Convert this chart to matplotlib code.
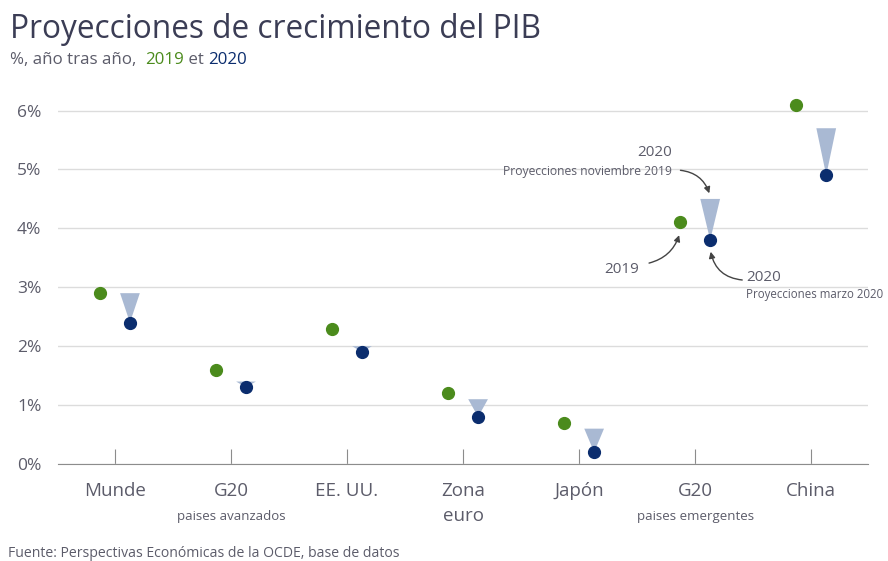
import numpy as np
import matplotlib.pyplot as plt

# datos (%, año tras año)
categorias = ['Munde', 'G20', 'EE. UU.', 'Zona\neuro', 'Japón', 'G20', 'China']
subetiquetas = ['', 'paises avanzados', '', '', '', 'paises emergentes', '']
pib_2019 = [2.9, 1.6, 2.3, 1.2, 0.7, 4.1, 6.1]
pib_2020_nov = [2.9, 1.4, 2.0, 1.1, 0.6, 4.5, 5.7]
pib_2020_mar = [2.4, 1.3, 1.9, 0.8, 0.2, 3.8, 4.9]

verde = '#4b8b1c'
azul = '#0b2d6e'
triang = '#a9b9d3'
gris = '#5c5c6a'

plt.rcParams['font.family'] = ['Open Sans', 'DejaVu Sans']

fig = plt.figure(figsize=(8.88, 5.61), dpi=100)
ax = fig.add_axes([58 / 888, 97 / 561, 810 / 888, 377 / 561])

x = np.arange(len(categorias))
dx = 0.13
w = 0.085

for xi, top, bot in zip(x, pib_2020_nov, pib_2020_mar):
    ax.fill([xi + dx - w, xi + dx + w, xi + dx], [top, top, bot],
            color=triang, lw=0, zorder=2)

ax.plot(x - dx, pib_2019, 'o', color=verde, ms=8.5, zorder=3, ls='none')
ax.plot(x + dx, pib_2020_mar, 'o', color=azul, ms=8.5, zorder=4, ls='none')

ax.set_xlim(-0.49, 6.49)
ax.set_ylim(0, 6.4)
ax.set_yticks(range(7))
ax.set_yticklabels([f'{v}%' for v in range(7)])
ax.grid(axis='y', color='#dcdcdc', lw=1)
ax.set_axisbelow(True)
for s in ['top', 'right', 'left']:
    ax.spines[s].set_visible(False)
ax.spines['bottom'].set_color('#8c8c8c')
ax.tick_params(axis='y', length=0, labelsize=12.5, labelcolor=gris, pad=12)
ax.set_xticks(x)
ax.set_xticklabels([])
ax.tick_params(axis='x', direction='in', length=11, color='#8c8c8c')

for xi, cat, sub in zip(x, categorias, subetiquetas):
    ax.text(xi, -0.31, cat, ha='center', va='top', fontsize=13.5, color=gris,
            linespacing=1.45)
    if sub:
        ax.text(xi, -0.78, sub, ha='center', va='top', fontsize=9.5, color=gris)

# anotaciones para G20 emergentes
i = 5
flecha = dict(arrowstyle='-|>', color='#444444', lw=1, mutation_scale=9)
ax.text(i - 0.2, 5.28, '2020', ha='right', va='center', fontsize=11, color=gris)
ax.text(i - 0.2, 4.97, 'Proyecciones noviembre 2019', ha='right', va='center',
        fontsize=8.7, color=gris)
ax.annotate('', xy=(i + dx, pib_2020_nov[i] + 0.05), xytext=(i - 0.15, 4.99),
            arrowprops=dict(flecha, connectionstyle='arc3,rad=-0.35'))
ax.text(i - 0.48, 3.31, '2019', ha='right', va='center', fontsize=11, color=gris)
ax.annotate('', xy=(i - dx, pib_2019[i] - 0.17), xytext=(i - 0.42, 3.4),
            arrowprops=dict(flecha, connectionstyle='arc3,rad=0.3'))
ax.text(i + 0.44, 3.17, '2020', ha='left', va='center', fontsize=11, color=gris)
ax.text(i + 0.44, 2.88, 'Proyecciones marzo 2020', ha='left', va='center',
        fontsize=8.3, color=gris)
ax.annotate('', xy=(i + dx, pib_2020_mar[i] - 0.15), xytext=(i + 0.43, 3.12),
            arrowprops=dict(flecha, connectionstyle='arc3,rad=-0.4'))

# títulos
fig.text(10 / 888, 1 - 38 / 561, 'Proyecciones de crecimiento del PIB',
         fontsize=22.8, color='#3b3d55', va='baseline')
sub_y = 1 - 64 / 561
t = fig.text(10 / 888, sub_y, '%, año tras año,  ', fontsize=12.2, color=gris, va='baseline')
fig.canvas.draw()
r = fig.canvas.get_renderer()
bb = t.get_window_extent(r)
t2 = fig.text(bb.x1 / 888, sub_y, '2019', fontsize=12.2, color=verde, va='baseline')
bb = t2.get_window_extent(r)
t3 = fig.text(bb.x1 / 888, sub_y, ' et ', fontsize=12.2, color=gris, va='baseline')
bb = t3.get_window_extent(r)
fig.text(bb.x1 / 888, sub_y, '2020', fontsize=12.2, color=azul, va='baseline')

fig.text(8 / 888, 1 - 557 / 561, 'Fuente: Perspectivas Económicas de la OCDE, base de datos',
         fontsize=10.1, color=gris, va='baseline')

fig.savefig('out.png', dpi=100)
